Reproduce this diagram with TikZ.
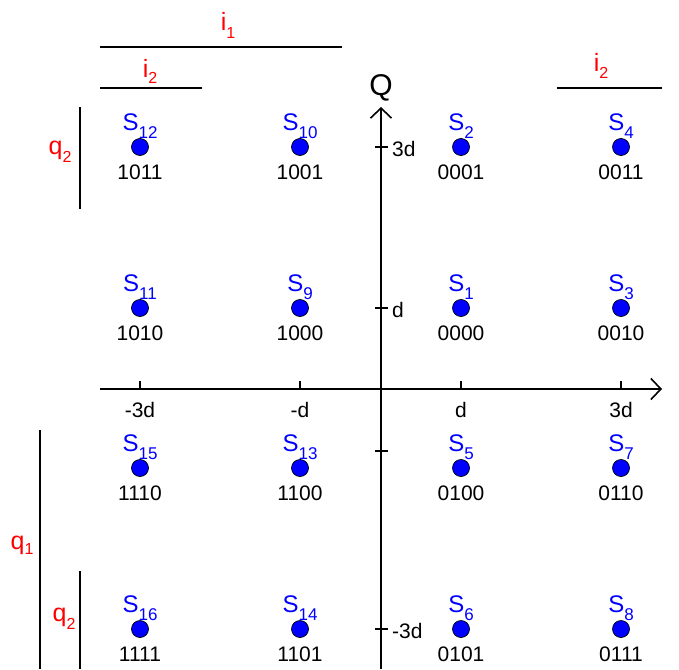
\documentclass[tikz,border=0pt]{standalone}
\usepackage{fontspec}
\setmainfont{Liberation Sans}
\usetikzlibrary{arrows.meta}
\newcommand\subl[4]{#1\raisebox{-#4pt}{\fontsize{#3}{#3}\selectfont #2}}
\tikzset{
  dot/.style={circle,fill=blue,draw=black,line width=0.7pt,minimum size=17pt,inner sep=0pt},
  slab/.style={anchor=base,inner sep=0pt,text=blue,font=\fontsize{24}{24}\selectfont},
  blab/.style={anchor=base,inner sep=0pt,text=black,font=\fontsize{21}{21}\selectfont},
  rlab/.style={anchor=base,inner sep=0pt,text=red,font=\fontsize{25}{25}\selectfont},
  axis/.style={line width=1.6pt,-{Straight Barb[length=10pt,width=21pt,line width=1.6pt]}},
  tick/.style={line width=1.4pt},
  bar/.style={line width=1.6pt},
  tlab/.style={inner sep=0pt,font=\fontsize{21}{21}\selectfont}
}
\begin{document}
\begin{tikzpicture}[x=1pt,y=-1pt]
\path[use as bounding box,fill=white] (0,0) rectangle (679,669);
% axes
\coordinate (xs) at (100,389);
\coordinate (xe) at (662,389);
\coordinate (ys) at (381,669);
\coordinate (ye) at (381,107);
\draw[axis] (xs) -- (xe);
\draw[axis] (ys) -- (ye);
\node[anchor=base,inner sep=0pt,font=\fontsize{30}{30}\selectfont] (Q) at (381,95) {Q};
% x ticks
\foreach \n/\x/\t in {a/140/-3d,b/300/-d,c/461/d,e/621/3d}{
  \coordinate (xt\n) at (\x,389);
  \coordinate (xu\n) at (\x,381);
  \draw[tick] (xt\n) -- (xu\n);
  \node[tlab,anchor=base] (xl\n) at (\x,417) {\t};
}
% y ticks
\foreach \n/\y/\t in {a/147/3d,b/308/d,c/451/{},e/629/-3d}{
  \coordinate (yl\n) at (375,\y);
  \coordinate (yr\n) at (388,\y);
  \draw[tick] (yl\n) -- (yr\n);
  \node[tlab,anchor=base west] (ylab\n) at (392,{\y+9}) {\t};
}
% points
\foreach \n/\x/\y/\b in {
  12/140/147/1011,10/300/147/1001,2/461/147/0001,4/621/147/0011,
  11/140/308/1010,9/300/308/1000,1/461/308/0000,3/621/308/0010,
  15/140/468/1110,13/300/468/1100,5/461/468/0100,7/621/468/0110,
  16/140/629/1111,14/300/629/1101,6/461/629/0101,8/621/629/0111}{
  \node[dot] (s\n) at (\x,\y) {};
  \node[slab] (l\n) at (\x,{\y-17}) {\subl{S}{\n}{17}{8}};
  \node[blab] (b\n) at (\x,{\y+32}) {\b};
}
% bars
\coordinate (i1a) at (100,47); \coordinate (i1b) at (342,47);
\draw[bar] (i1a) -- (i1b);
\node[rlab] (i1) at (228,31) {\subl{i}{1}{16}{7}};
\coordinate (i2a) at (100,88); \coordinate (i2b) at (202,88);
\draw[bar] (i2a) -- (i2b);
\node[rlab] (i2) at (150,77) {\subl{i}{2}{16}{6}};
\coordinate (i3a) at (557,88); \coordinate (i3b) at (662,88);
\draw[bar] (i3a) -- (i3b);
\node[rlab] (i3) at (601,71) {\subl{i}{2}{16}{7}};
\coordinate (q2a) at (80,107); \coordinate (q2b) at (80,209);
\draw[bar] (q2a) -- (q2b);
\node[rlab] (q2) at (60,154) {\subl{q}{2}{16}{8}};
\coordinate (q1a) at (40,430); \coordinate (q1b) at (40,669);
\draw[bar] (q1a) -- (q1b);
\node[rlab] (q1) at (22,549) {\subl{q}{1}{16}{5}};
\coordinate (q3a) at (80,571); \coordinate (q3b) at (80,669);
\draw[bar] (q3a) -- (q3b);
\node[rlab] (q3) at (64,621) {\subl{q}{2}{16}{8}};
\end{tikzpicture}
\end{document}
